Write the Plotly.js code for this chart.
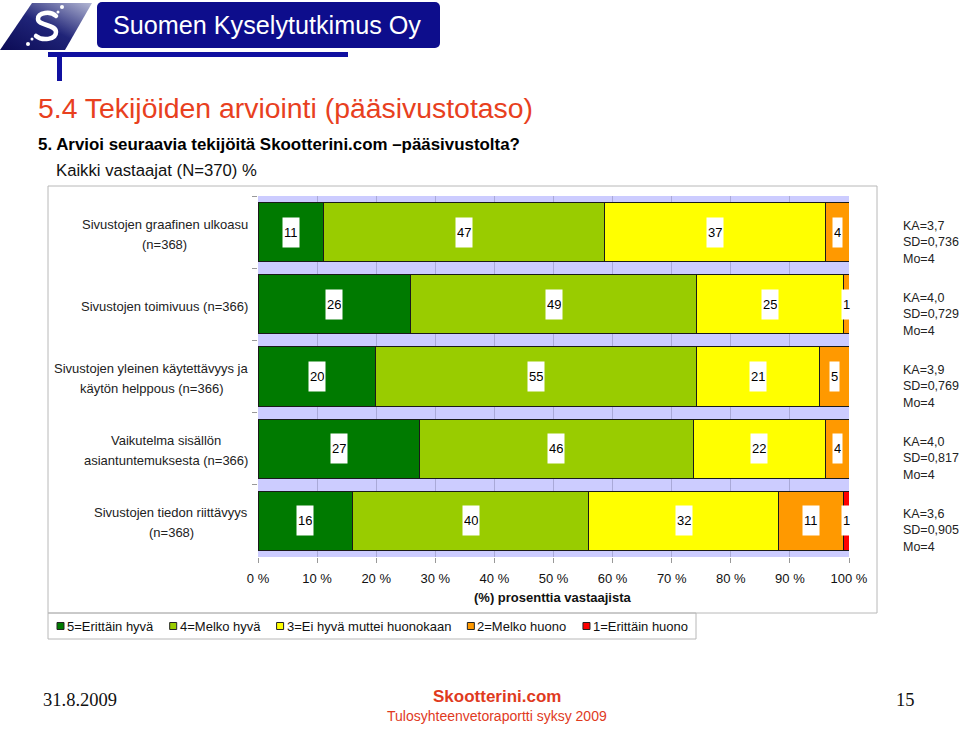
<!DOCTYPE html>
<html>
<head>
<meta charset="utf-8">
<script src="https://cdn.plot.ly/plotly-3.0.1.min.js"></script>
<style>
  html, body { margin:0; padding:0; background:#fff; }
  #wrap { position:relative; width:960px; height:729px; overflow:hidden; }
  #chart { position:absolute; left:0; top:0; width:960px; height:729px; }
  #hdr { position:absolute; left:0; top:0; }
</style>
</head>
<body>
<div id="wrap">
  <div id="chart"></div>
  <svg id="hdr" width="460" height="84" xmlns="http://www.w3.org/2000/svg">
    <defs>
      <linearGradient id="lg" x1="0" y1="1" x2="1" y2="0">
        <stop offset="0" stop-color="#0b0b55"/>
        <stop offset="0.5" stop-color="#202478"/>
        <stop offset="1" stop-color="#b4b8d4"/>
      </linearGradient>
    </defs>
    <polygon points="32,3 92,3 65,50 0,50" fill="url(#lg)"/>
    <path d="M56,16 C51,11 38,12 38,19 C38,26 56,24 56,32 C56,40 42,41 36,36" stroke="#fff" stroke-width="4.5" fill="none" stroke-linecap="round"/>
    <circle cx="62" cy="7" r="2" fill="#fff"/>
    <circle cx="58" cy="12" r="1.5" fill="#fff"/>
    <circle cx="32" cy="39" r="1.5" fill="#fff"/>
    <circle cx="28" cy="44" r="2" fill="#fff"/>
    <rect x="97" y="2" width="343" height="46" rx="5" ry="5" fill="#0d0d8c"/>
    <text x="113" y="34" fill="#ffffff" font-family="Liberation Sans, Arial, sans-serif" font-size="25.2">Suomen Kyselytutkimus Oy</text>
    <rect x="48" y="52" width="300" height="5" fill="#1010a0"/>
    <rect x="57" y="56" width="5" height="25" fill="#1010a0"/>
  </svg>
</div>
<script>
// ---------------- DATA ----------------
var categories = [
  "Sivustojen graafinen ulkoasu<br>(n=368)",
  "Sivustojen toimivuus (n=366)",
  "Sivustojen yleinen käytettävyys ja<br>käytön helppous (n=366)",
  "Vaikutelma sisällön<br>asiantuntemuksesta (n=366)",
  "Sivustojen tiedon riittävyys<br>(n=368)"
];
var seriesNames = [
  "5=Erittäin hyvä",
  "4=Melko hyvä",
  "3=Ei hyvä muttei huonokaan",
  "2=Melko huono",
  "1=Erittäin huono"
];
var erittainHyva = [11, 26, 20, 27, 16];
var melkoHyva    = [47, 49, 55, 46, 40];
var eiHyvaEiHuono= [37, 25, 21, 22, 32];
var melkoHuono   = [4, 1, 5, 4, 11];
var erittainHuono= [0, 0, 0, 0, 1];
var statsText = [
  "KA=3,7<br>SD=0,736<br>Mo=4",
  "KA=4,0<br>SD=0,729<br>Mo=4",
  "KA=3,9<br>SD=0,769<br>Mo=4",
  "KA=4,0<br>SD=0,817<br>Mo=4",
  "KA=3,6<br>SD=0,905<br>Mo=4"
];
var xTickVals = [0,10,20,30,40,50,60,70,80,90,100];
var xTickText = ["0 %","10 %","20 %","30 %","40 %","50 %","60 %","70 %","80 %","90 %","100 %"];

// ---------------- STYLE / LAYOUT ----------------
var seriesValues = [erittainHyva, melkoHyva, eiHyvaEiHuono, melkoHuono, erittainHuono];
var colors = ["#007a00", "#99cc00", "#ffff00", "#ff9900", "#ff0000"];
var FONT = "Liberation Sans, Arial, sans-serif";

var L = 258, R = 849, T = 196, B = 557;
var W = R - L, H = B - T;
function px(p) { return (p - L) / W; }
function py(p) { return (B - p) / H; }

var ctx = document.createElement("canvas").getContext("2d");
function textW(s, size) { ctx.font = size + "px 'Liberation Sans'"; return ctx.measureText(s).width; }

var traces = seriesValues.map(function (vals, i) {
  return {
    type: "bar",
    orientation: "h",
    name: seriesNames[i],
    x: vals,
    y: categories,
    marker: { color: colors[i], line: { color: "#1a1a1a", width: 1 } },
    hoverinfo: "skip",
    showlegend: false
  };
});

var annotations = [];
var shapes = [];
var CAT_SIZE = 13;
categories.forEach(function (cat, r) {
  var total = 0;
  seriesValues.forEach(function (s) { total += s[r]; });
  var cum = 0;
  seriesValues.forEach(function (s) {
    var v = s[r];
    if (v > 0) {
      annotations.push({
        x: (cum + v / 2) / total * 100, y: cat, xref: "x", yref: "y",
        text: String(v), showarrow: false,
        font: { family: FONT, size: 13, color: "#000" },
        bgcolor: "#ffffff", borderpad: 1, height: 27
      });
    }
    cum += v;
  });
  var lines = cat.split("<br>");
  var blockW = Math.max.apply(null, lines.map(function (l) { return textW(l, CAT_SIZE); }));
  var cx = 248 - blockW / 2;
  var lineGap = 20;
  lines.forEach(function (ln, k) {
    annotations.push({
      x: px(cx), xref: "paper", y: cat, yref: "y", xanchor: "center", yanchor: "middle",
      yshift: -((k - (lines.length - 1) / 2) * lineGap) - 2,
      text: ln, showarrow: false,
      font: { family: FONT, size: CAT_SIZE, color: "#222" }
    });
  });
  annotations.push({
    x: px(901), xref: "paper", y: cat, yref: "y", xanchor: "left", yshift: -10,
    text: statsText[r], align: "left", showarrow: false,
    font: { family: FONT, size: 12.5, color: "#222" }
  });
});

// custom compact legend, entries flowed from measured text widths
var LEG_SIZE = 13, LEG_START = 57, LEG_END = 688, SYM = 7, SYM_GAP = 3;
var legW = seriesNames.map(function (n) { return textW(n, LEG_SIZE); });
var used = legW.reduce(function (a, b) { return a + b; }, 0) + seriesNames.length * (SYM + SYM_GAP);
var gap = (LEG_END - LEG_START - used) / (seriesNames.length - 1);
var sx = LEG_START;
seriesNames.forEach(function (nm, i) {
  shapes.push({ type: "rect", xref: "paper", yref: "paper",
    x0: px(sx), x1: px(sx + SYM), y0: py(622.5), y1: py(629.5),
    fillcolor: colors[i], line: { color: "#222", width: 1 } });
  annotations.push({ x: px(sx + SYM + SYM_GAP - 1), y: py(626), xref: "paper", yref: "paper",
    xanchor: "left", yanchor: "middle", text: nm, showarrow: false, borderpad: 0,
    font: { family: FONT, size: LEG_SIZE, color: "#111" } });
  sx += SYM + SYM_GAP + legW[i] + gap;
});

annotations.push(
  { x: px(36), y: py(108), xref: "paper", yref: "paper", xanchor: "left", yanchor: "middle",
    text: "5.4 Tekijöiden arviointi (pääsivustotaso)", showarrow: false,
    font: { family: FONT, size: 28.4, color: "#e8401e" } },
  { x: px(36), y: py(144), xref: "paper", yref: "paper", xanchor: "left", yanchor: "middle",
    text: "<b>5. Arvioi seuraavia tekijöitä Skootterini.com –pääsivustolta?</b>", showarrow: false,
    font: { family: FONT, size: 16.9, color: "#000" } },
  { x: px(54), y: py(170), xref: "paper", yref: "paper", xanchor: "left", yanchor: "middle",
    text: "Kaikki vastaajat (N=370) %", showarrow: false,
    font: { family: FONT, size: 16.7, color: "#111" } },
  { x: px(553), y: py(597), xref: "paper", yref: "paper", xanchor: "center", yanchor: "middle",
    text: "<b>(%) prosenttia vastaajista</b>", showarrow: false,
    font: { family: FONT, size: 13, color: "#111" } },
  { x: px(41), y: py(700), xref: "paper", yref: "paper", xanchor: "left", yanchor: "middle",
    text: "31.8.2009", showarrow: false,
    font: { family: "Liberation Serif, Times New Roman, serif", size: 18.5, color: "#111" } },
  { x: px(497), y: py(696), xref: "paper", yref: "paper", xanchor: "center", yanchor: "middle",
    text: "<b>Skootterini.com</b>", showarrow: false,
    font: { family: FONT, size: 17, color: "#e03a1e" } },
  { x: px(497), y: py(716), xref: "paper", yref: "paper", xanchor: "center", yanchor: "middle",
    text: "Tulosyhteenvetoraportti syksy 2009", showarrow: false,
    font: { family: FONT, size: 14, color: "#e03a1e" } },
  { x: px(917), y: py(700), xref: "paper", yref: "paper", xanchor: "right", yanchor: "middle",
    text: "15", showarrow: false,
    font: { family: "Liberation Serif, Times New Roman, serif", size: 18.5, color: "#111" } }
);

shapes.push(
  { type: "rect", xref: "paper", yref: "paper", x0: px(48), x1: px(877), y0: py(186), y1: py(613),
    line: { color: "#b8b8b8", width: 1 }, fillcolor: "rgba(0,0,0,0)", layer: "below" },
  { type: "rect", xref: "paper", yref: "paper", x0: px(48), x1: px(696), y0: py(613), y1: py(639),
    line: { color: "#b8b8b8", width: 1 }, fillcolor: "rgba(0,0,0,0)", layer: "below" }
);

var layout = {
  width: 960, height: 729,
  margin: { l: L, r: 960 - R, t: T, b: 729 - B, pad: 0 },
  paper_bgcolor: "#ffffff",
  plot_bgcolor: "#ccccff",
  barmode: "stack",
  barnorm: "percent",
  bargap: 0.18,
  showlegend: false,
  xaxis: {
    range: [0, 100], tickvals: xTickVals, ticktext: xTickText,
    showgrid: true, gridcolor: "#a9a9d8", gridwidth: 1, zeroline: false,
    ticks: "outside", ticklen: 5, tickcolor: "#999", showline: false,
    tickfont: { family: FONT, size: 13, color: "#111" }, ticklabelstandoff: 4,
    fixedrange: true
  },
  yaxis: {
    type: "category", autorange: "reversed", showticklabels: false,
    ticks: "outside", tickson: "boundaries", ticklen: 5, tickcolor: "#999",
    showgrid: false, zeroline: false, showline: false, fixedrange: true
  },
  annotations: annotations,
  shapes: shapes,
  font: { family: FONT }
};

Plotly.newPlot("chart", traces, layout, { displayModeBar: false, staticPlot: true });
</script>
</body>
</html>
